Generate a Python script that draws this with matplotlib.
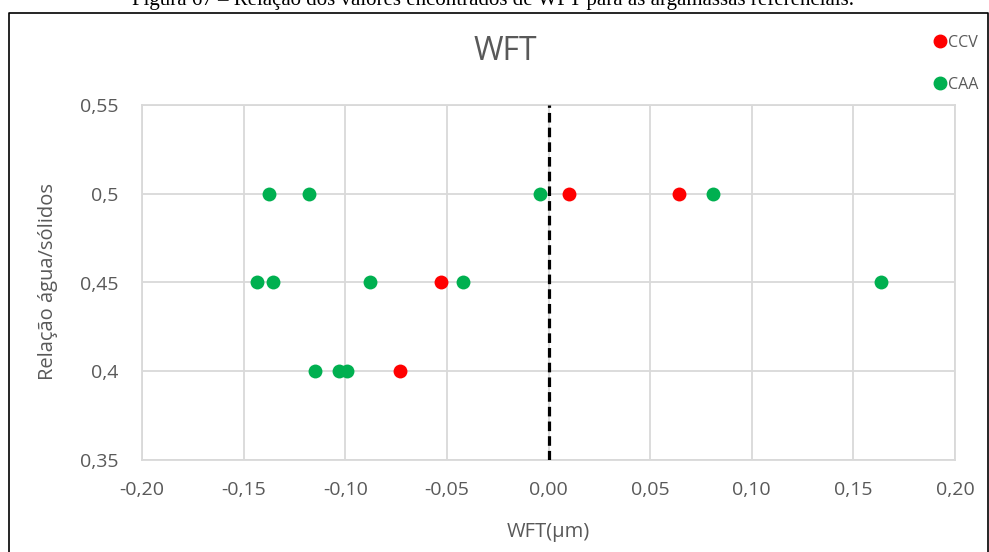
import matplotlib
matplotlib.use("Agg")
import matplotlib.pyplot as plt
from matplotlib.lines import Line2D
from matplotlib.ticker import FuncFormatter

# data (WFT in µm, water/solids ratio)
ccv_wft = [0.010, 0.064, -0.053, -0.073]
ccv_ratio = [0.50, 0.50, 0.45, 0.40]

caa_wft = [-0.1375, -0.118, -0.004, 0.081,
           -0.1436, -0.1355, -0.088, -0.042, 0.1636,
           -0.115, -0.103, -0.099]
caa_ratio = [0.50, 0.50, 0.50, 0.50,
             0.45, 0.45, 0.45, 0.45, 0.45,
             0.40, 0.40, 0.40]

x_ticks = [-0.20, -0.15, -0.10, -0.05, 0.00, 0.05, 0.10, 0.15, 0.20]
y_ticks = [0.35, 0.40, 0.45, 0.50, 0.55]

caption = "Figura 67 \u2013 Rela\u00e7\u00e3o dos valores encontrados de WFT para as argamassas referenciais."

RED = "#FF0000"
GREEN = "#00B050"
TXT = "#595959"
GRID = "#D9D9D9"

plt.rcParams["font.family"] = ["Open Sans", "DejaVu Sans"]

fig = plt.figure(figsize=(9.89, 5.52), dpi=100)
ax = fig.add_axes([142 / 989, 1 - 460 / 552, (955 - 142) / 989, (460 - 105) / 552])

ax.scatter(caa_wft, caa_ratio, s=100, color=GREEN, zorder=3, linewidths=0)
ax.scatter(ccv_wft, ccv_ratio, s=100, color=RED, zorder=3, linewidths=0)
ax.axvline(0, color="black", lw=2.3, ls=(0, (3, 1.6)), zorder=4)

ax.set_xlim(-0.20, 0.20)
ax.set_ylim(0.35, 0.55)
ax.set_xticks(x_ticks)
ax.set_yticks(y_ticks)
ax.xaxis.set_major_formatter(FuncFormatter(lambda v, p: f"{v:.2f}".replace(".", ",").replace("-0,00", "0,00")))
ax.yaxis.set_major_formatter(FuncFormatter(lambda v, p: f"{round(v, 2):g}".replace(".", ",")))
ax.tick_params(length=0, labelsize=14, labelcolor=TXT)
ax.tick_params(axis="x", pad=15)
ax.tick_params(axis="y", pad=17)
ax.grid(True, color=GRID, lw=1.3, zorder=0)
for s in ax.spines.values():
    s.set_color(GRID)
    s.set_linewidth(1.3)

fig.text(505 / 989, 1 - 52 / 552, "WFT", fontsize=23, color=TXT, ha="center", va="center")
fig.text(548 / 989, 1 - 532 / 552, "WFT(\u00b5m)", fontsize=14.5, color=TXT, ha="center", va="center")
fig.text(48 / 989, 1 - 282 / 552, "Rela\u00e7\u00e3o \u00e1gua/s\u00f3lidos", fontsize=14.5, color=TXT,
         ha="center", va="center", rotation=90)

# legend drawn at the top right, like in the reference
handles = [Line2D([], [], ls="", marker="o", ms=9, color=RED, mec=RED),
           Line2D([], [], ls="", marker="o", ms=9, color=GREEN, mec=GREEN)]
fig.legend(handles, ["CCV", "CAA"], loc="upper left", bbox_to_anchor=(922 / 989, 1 - 27 / 552),
           frameon=False, fontsize=11.5, labelcolor=TXT, handletextpad=-0.1, labelspacing=1.6,
           handlelength=1.2, borderpad=0)

# caption (cut at the top) and the frame round the chart
fig.text(493 / 989, 1 - 5 / 552, caption, fontsize=15, family="Liberation Serif",
         ha="center", va="baseline", color="black")
fig.add_artist(Line2D([8.5 / 989, 8.5 / 989, 987.5 / 989, 987.5 / 989],
                      [0, 1 - 12.5 / 552, 1 - 12.5 / 552, 0],
                      transform=fig.transFigure, color="black", lw=1.2))

fig.savefig("out.png", dpi=100)
